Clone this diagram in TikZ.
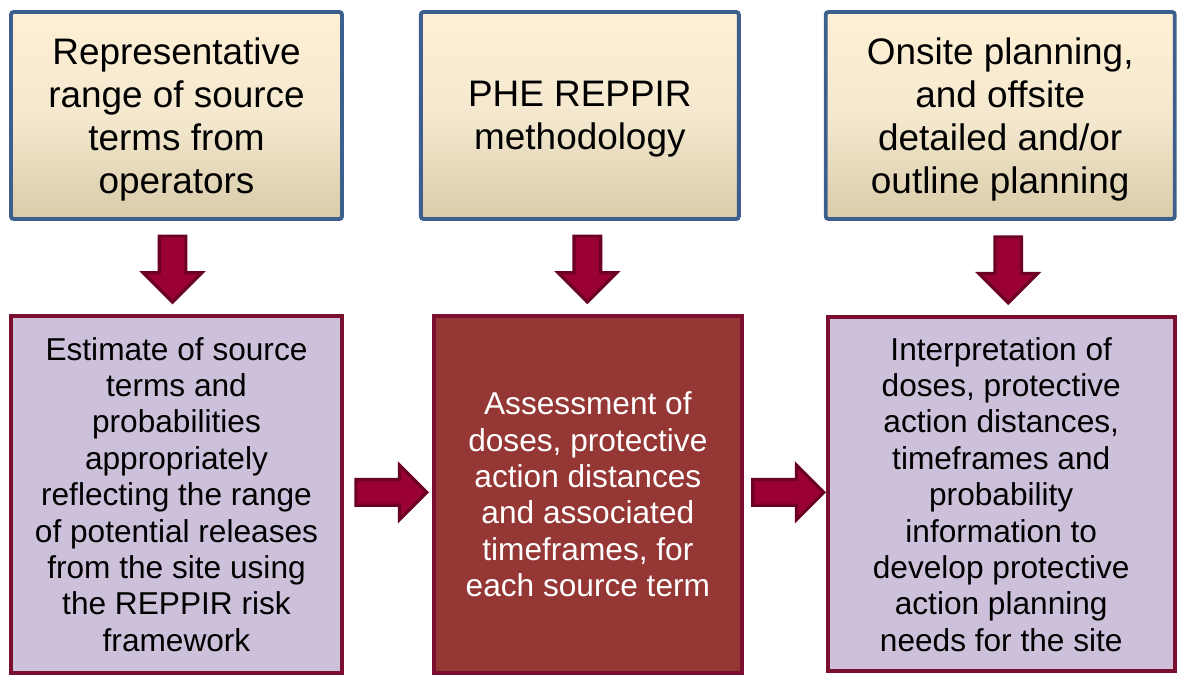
\documentclass[tikz,border=0pt]{standalone}
\usepackage{fontspec}
\setmainfont{Liberation Sans}
\usetikzlibrary{shapes.arrows, positioning, calc}

\definecolor{planblue}{HTML}{3C5F8D}
\definecolor{creamtop}{HTML}{FEF0D4}
\definecolor{creammid}{HTML}{F4E8CF}
\definecolor{creambot}{HTML}{D9CCA9}
\definecolor{lilac}{HTML}{CCC0DA}
\definecolor{wine}{HTML}{7A0F2F}
\definecolor{brick}{HTML}{953735}
\definecolor{arrowred}{HTML}{9B0034}
\definecolor{arrowdark}{HTML}{6B0022}

\begin{document}
\begin{tikzpicture}[
        node distance=1.5cm and 1.5cm,
        source/.style={rectangle, draw=planblue, line width=2.2pt, rounded corners=1.5pt, top color=creamtop, bottom color=creambot, middle color=creammid, align=center, font=\fontsize{21}{24.4}\selectfont, text depth=-1pt, minimum height=4.14cm},
        result/.style={rectangle, draw=wine, line width=2.2pt, fill=lilac, align=center, font=\fontsize{18}{20.7}\selectfont, minimum height=7.14cm},
        blockarrow/.style={single arrow, draw=arrowdark, line width=1.8pt, fill=arrowred, minimum height=1.32cm, single arrow head extend=0.32cm, inner xsep=0pt, inner ysep=0.235cm}
    ]

    \useasboundingbox (0,0) rectangle (23.58,13.5);

    % Inputs
    \node[source, minimum width=6.62cm] (operators) at (3.53,11.19) {Representative\\range of source\\terms from\\operators};

    \node[source, minimum width=6.36cm, right=1.5cm of operators] (method) {PHE REPPIR\\methodology};

    \node[source, minimum width=6.98cm, right=1.66cm of method] (planning) {Onsite planning,\\and offsite\\detailed and/or\\outline planning};

    % Results
    \node[result, minimum width=6.62cm, below=1.86cm of operators] (estimate) {Estimate of source\\terms and\\probabilities\\appropriately\\reflecting the range\\of potential releases\\from the site using\\the REPPIR risk\\framework};

    \node[result, minimum width=6.16cm, fill=brick, text=white, right=1.76cm of estimate] (assess) {Assessment of\\doses, protective\\action distances\\and associated\\timeframes, for\\each source term};

    \node[result, minimum width=6.94cm, minimum height=7.08cm, right=1.64cm of assess] (interpret) {Interpretation of\\doses, protective\\action distances,\\timeframes and\\probability\\information to\\develop protective\\action planning\\needs for the site};

    % Block arrows
    \node[blockarrow, rotate=-90] (down1) at ($(operators.south)!0.5!(estimate.north)+(-0.08,0.1)$) {};
    \node[blockarrow, rotate=-90] (down2) at ($(method.south)!0.5!(assess.north)+(0.07,0.1)$) {};
    \node[blockarrow, rotate=-90] (down3) at ($(planning.south)!0.5!(interpret.north)+(0.15,0.1)$) {};

    \node[blockarrow, minimum height=1.42cm, single arrow head extend=0.29cm, inner ysep=0.225cm, yshift=0.04cm] (right1) at ($(estimate.east)!0.5!(assess.west)+(-0.06,0)$) {};
    \node[blockarrow, minimum height=1.42cm, single arrow head extend=0.29cm, inner ysep=0.225cm, yshift=0.04cm] (right2) at ($(assess.east)!0.5!(interpret.west)+(-0.06,0)$) {};

\end{tikzpicture}
\end{document}
